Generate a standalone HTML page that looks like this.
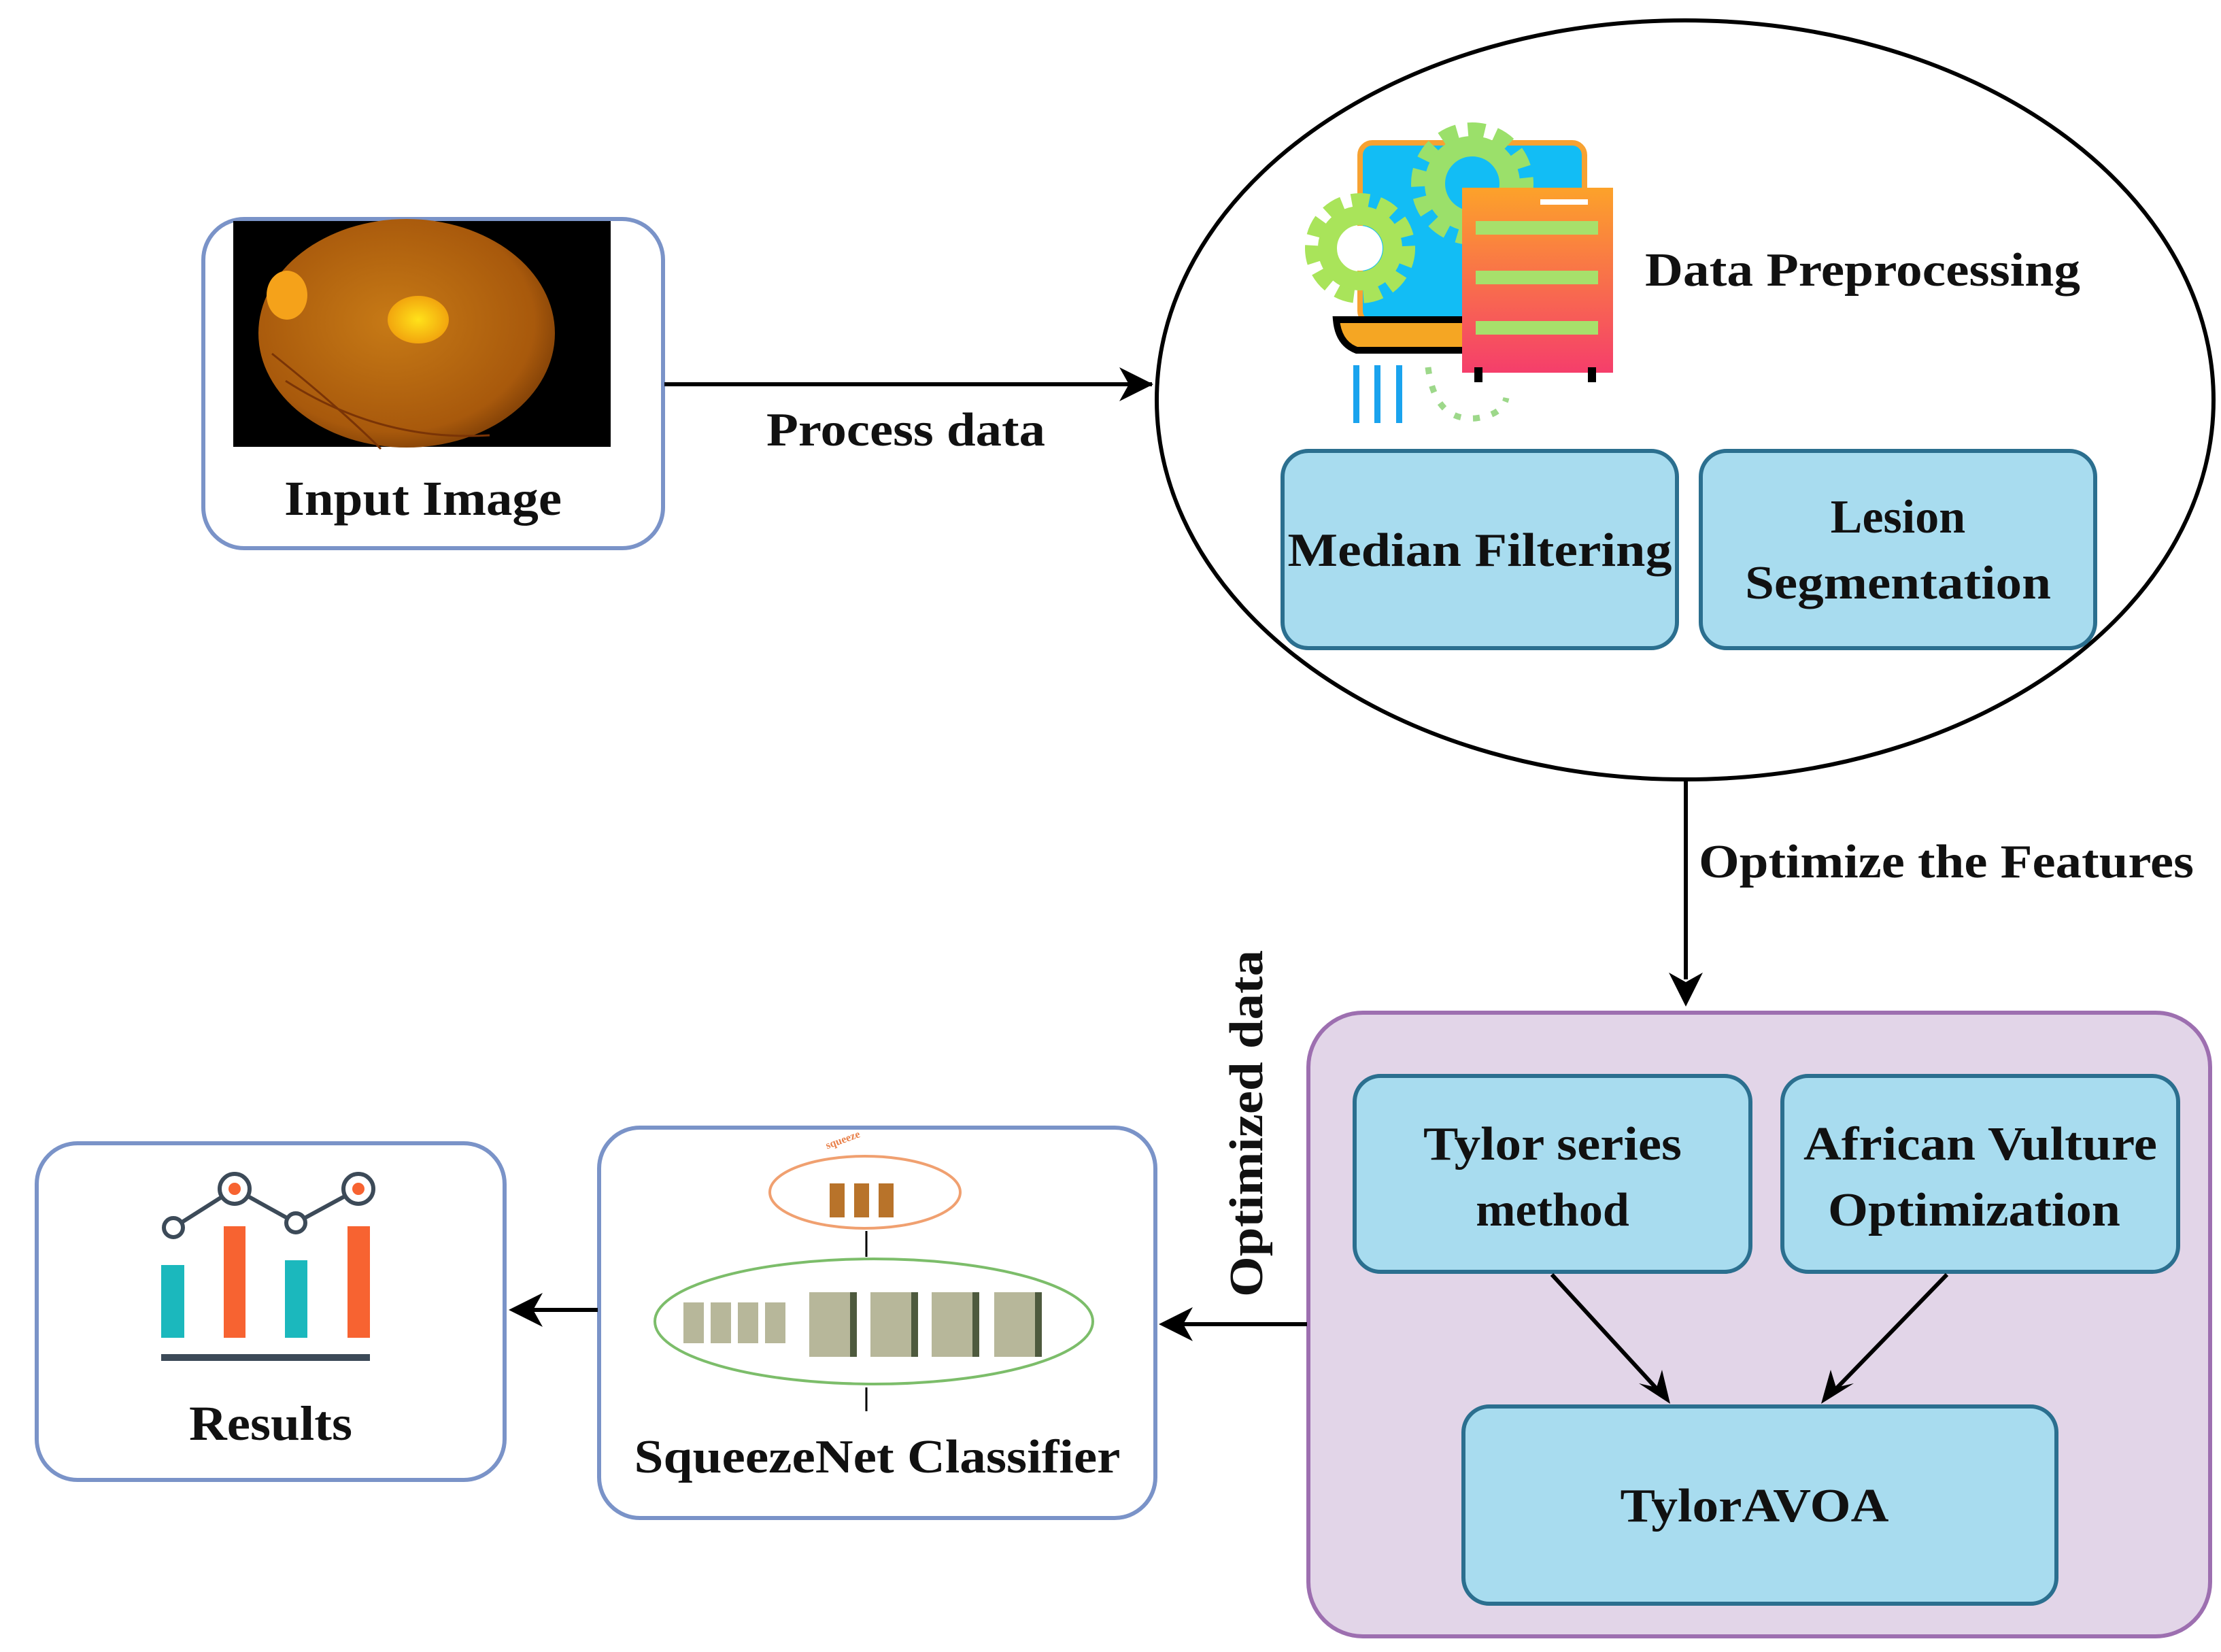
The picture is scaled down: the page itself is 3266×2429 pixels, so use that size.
<!DOCTYPE html>
<html><head><meta charset="utf-8"><style>html,body{margin:0;padding:0;background:#fff}svg{display:block}text{font-family:"Liberation Serif",serif;font-weight:bold;fill:#111}</style></head>
<body>
<svg width="3266" height="2429" viewBox="0 0 3266 2429" xmlns="http://www.w3.org/2000/svg">
<defs>
<marker id="ah" markerWidth="10" markerHeight="10" refX="9" refY="5" orient="auto" markerUnits="userSpaceOnUse" viewBox="0 0 10 10"><path d="M0,0 L10,5 L0,10 L3,5 z" fill="#000"/></marker>
<radialGradient id="ret" cx="0.45" cy="0.45" r="0.6"><stop offset="0" stop-color="#c77a16"/><stop offset="0.8" stop-color="#a8590c"/><stop offset="1" stop-color="#7a3c06"/></radialGradient>
<radialGradient id="spot" cx="0.5" cy="0.5" r="0.5"><stop offset="0" stop-color="#ffe21a"/><stop offset="1" stop-color="#f2a50e"/></radialGradient>
<linearGradient id="srv" x1="0" y1="0" x2="0" y2="1"><stop offset="0" stop-color="#fca22a"/><stop offset="1" stop-color="#f53e6b"/></linearGradient>
</defs>

<!-- Input Image -->
<rect x="299" y="322" width="676" height="484" rx="60" fill="#fff" stroke="#7a93c8" stroke-width="6"/>
<rect x="343" y="325" width="555" height="332" fill="#000"/>
<ellipse cx="598" cy="490" rx="218" ry="168" fill="url(#ret)"/>
<ellipse cx="422" cy="434" rx="30" ry="36" fill="#f5a21a"/>
<ellipse cx="615" cy="470" rx="45" ry="35" fill="url(#spot)"/>
<path d="M400 520 Q500 600 560 660" stroke="#7a3406" stroke-width="3" fill="none"/>
<path d="M420 560 Q560 650 720 640" stroke="#7a3406" stroke-width="3" fill="none"/>
<text x="622" y="757" font-size="72" text-anchor="middle" textLength="408" lengthAdjust="spacingAndGlyphs">Input Image</text>

<!-- Process data arrow -->
<line x1="977" y1="565" x2="1694" y2="565" stroke="#000" stroke-width="6" marker-end="url(#ah)"/>
<path d="M1696 565 L1646 540 L1660 565 L1646 590 z" fill="#000"/>
<text x="1332" y="655" font-size="70" text-anchor="middle" textLength="410" lengthAdjust="spacingAndGlyphs">Process data</text>

<!-- Ellipse -->
<ellipse cx="2478" cy="588" rx="777" ry="558" fill="#fff" stroke="#000" stroke-width="6"/>
<!-- icon -->
<rect x="2000" y="210" width="330" height="265" rx="18" fill="#12bdf5" stroke="#f7a232" stroke-width="8"/>
<circle cx="2165" cy="270" r="70" fill="none" stroke="#9be06a" stroke-width="40" stroke-dasharray="22 14"/>
<circle cx="2165" cy="270" r="55" fill="none" stroke="#9be06a" stroke-width="30"/>
<circle cx="2000" cy="365" r="60" fill="none" stroke="#a9e45a" stroke-width="42" stroke-dasharray="22 12"/>
<circle cx="2000" cy="365" r="48" fill="none" stroke="#a9e45a" stroke-width="28"/>
<circle cx="2000" cy="365" r="33" fill="#fff"/>
<path d="M1965 470 L2170 470 L2170 515 L1995 515 Q1968 505 1965 470 z" fill="#f5a623" stroke="#000" stroke-width="10"/>
<rect x="2150" y="276" width="222" height="272" fill="url(#srv)"/>
<rect x="2170" y="325" width="180" height="20" fill="#a7e06b"/>
<rect x="2170" y="398" width="180" height="20" fill="#a7e06b"/>
<rect x="2170" y="472" width="180" height="20" fill="#a7e06b"/>
<rect x="2168" y="540" width="12" height="22" fill="#000"/><rect x="2335" y="540" width="12" height="22" fill="#000"/>
<rect x="2265" y="293" width="70" height="8" fill="#fff"/>
<rect x="1990" y="537" width="9" height="85" fill="#1aa3ee"/><rect x="2021" y="537" width="9" height="85" fill="#1aa3ee"/><rect x="2053" y="537" width="9" height="85" fill="#1aa3ee"/>
<path d="M2100 540 Q2110 620 2170 615 Q2210 610 2215 585" stroke="#9dd88a" stroke-width="9" fill="none" stroke-dasharray="10 18"/>
<text x="2419" y="420" font-size="70" textLength="640" lengthAdjust="spacingAndGlyphs">Data Preprocessing</text>
<rect x="1886" y="663" width="580" height="290" rx="38" fill="#a8dcef" stroke="#2b6f8f" stroke-width="6"/>
<rect x="2501" y="663" width="580" height="290" rx="38" fill="#a8dcef" stroke="#2b6f8f" stroke-width="6"/>
<text x="2176" y="832" font-size="70" text-anchor="middle" textLength="565" lengthAdjust="spacingAndGlyphs">Median Filtering</text>
<text x="2791" y="783" font-size="70" text-anchor="middle">Lesion</text>
<text x="2791" y="880" font-size="70" text-anchor="middle" textLength="450" lengthAdjust="spacingAndGlyphs">Segmentation</text>

<!-- Optimize arrow -->
<line x1="2479" y1="1148" x2="2479" y2="1440" stroke="#000" stroke-width="6"/>
<path d="M2479 1480 L2454 1430 L2479 1444 L2504 1430 z" fill="#000"/>
<text x="2498" y="1290" font-size="70" textLength="728" lengthAdjust="spacingAndGlyphs">Optimize the Features</text>

<!-- purple box -->
<rect x="1924" y="1489" width="1326" height="917" rx="80" fill="#e2d5e8" stroke="#9d6fb0" stroke-width="6"/>
<rect x="1992" y="1582" width="582" height="288" rx="38" fill="#a8dcef" stroke="#2b6f8f" stroke-width="6"/>
<rect x="2621" y="1582" width="582" height="288" rx="38" fill="#a8dcef" stroke="#2b6f8f" stroke-width="6"/>
<rect x="2152" y="2068" width="872" height="290" rx="38" fill="#a8dcef" stroke="#2b6f8f" stroke-width="6"/>
<text x="2283" y="1705" font-size="70" text-anchor="middle" textLength="380" lengthAdjust="spacingAndGlyphs">Tylor series</text>
<text x="2283" y="1802" font-size="70" text-anchor="middle">method</text>
<text x="2912" y="1705" font-size="70" text-anchor="middle" textLength="520" lengthAdjust="spacingAndGlyphs">African Vulture</text>
<text x="2903" y="1802" font-size="70" text-anchor="middle" textLength="430" lengthAdjust="spacingAndGlyphs">Optimization</text>
<text x="2580" y="2237" font-size="70" text-anchor="middle" textLength="395" lengthAdjust="spacingAndGlyphs">TylorAVOA</text>
<line x1="2282" y1="1874" x2="2440" y2="2046" stroke="#000" stroke-width="6"/>
<path d="M2456 2064 L2410 2034 L2436 2040 L2444 2014 z" fill="#000"/>
<line x1="2863" y1="1874" x2="2696" y2="2046" stroke="#000" stroke-width="6"/>
<path d="M2678 2064 L2692 2014 L2700 2040 L2726 2034 z" fill="#000"/>

<!-- optimized data arrow -->
<line x1="1922" y1="1947" x2="1740" y2="1947" stroke="#000" stroke-width="6"/>
<path d="M1704 1947 L1754 1922 L1740 1947 L1754 1972 z" fill="#000"/>
<text x="0" y="0" font-size="70" text-anchor="middle" textLength="510" lengthAdjust="spacingAndGlyphs" transform="translate(1856 1652) rotate(-90)">Optimized data</text>

<!-- SqueezeNet -->
<rect x="881" y="1658" width="818" height="574" rx="60" fill="#fff" stroke="#7a93c8" stroke-width="6"/>
<ellipse cx="1272" cy="1753" rx="140" ry="53" fill="none" stroke="#f0a070" stroke-width="4"/>
<text x="1220" y="1710" font-size="16" fill="#e8804a" style="fill:#e8804a" transform="rotate(-20 1160 1710)">squeeze</text>
<rect x="1220" y="1740" width="22" height="50" fill="#b8732a"/><rect x="1256" y="1740" width="22" height="50" fill="#b8732a"/><rect x="1292" y="1740" width="22" height="50" fill="#b8732a"/>
<line x1="1274" y1="1810" x2="1274" y2="1848" stroke="#000" stroke-width="3"/>
<ellipse cx="1285" cy="1943" rx="322" ry="92" fill="none" stroke="#7cbd6a" stroke-width="4"/>
<g fill="#b7b79a">
<rect x="1005" y="1915" width="30" height="60"/><rect x="1045" y="1915" width="30" height="60"/><rect x="1085" y="1915" width="30" height="60"/><rect x="1125" y="1915" width="30" height="60"/>
<rect x="1190" y="1900" width="70" height="95"/><rect x="1280" y="1900" width="70" height="95"/><rect x="1370" y="1900" width="70" height="95"/><rect x="1462" y="1900" width="70" height="95"/>
</g>
<g fill="#4e5a3e"><rect x="1250" y="1900" width="10" height="95"/><rect x="1340" y="1900" width="10" height="95"/><rect x="1430" y="1900" width="10" height="95"/><rect x="1522" y="1900" width="10" height="95"/></g>
<line x1="1274" y1="2040" x2="1274" y2="2075" stroke="#000" stroke-width="3"/>
<text x="1290" y="2165" font-size="70" text-anchor="middle" textLength="715" lengthAdjust="spacingAndGlyphs">SqueezeNet Classifier</text>

<!-- results arrow -->
<line x1="879" y1="1926" x2="780" y2="1926" stroke="#000" stroke-width="6"/>
<path d="M748 1926 L798 1901 L784 1926 L798 1951 z" fill="#000"/>

<!-- Results -->
<rect x="54" y="1681" width="688" height="495" rx="60" fill="#fff" stroke="#7a93c8" stroke-width="6"/>
<rect x="237" y="1860" width="34" height="107" fill="#1bb8bd"/>
<rect x="329" y="1803" width="32" height="164" fill="#f76331"/>
<rect x="419" y="1853" width="33" height="114" fill="#1bb8bd"/>
<rect x="511" y="1803" width="33" height="164" fill="#f76331"/>
<rect x="237" y="1991" width="307" height="10" fill="#3c4a58"/>
<polyline points="255,1805 345,1748 435,1798 527,1748" fill="none" stroke="#3c4a58" stroke-width="6"/>
<circle cx="255" cy="1805" r="14" fill="#fff" stroke="#3c4a58" stroke-width="6"/>
<circle cx="435" cy="1798" r="14" fill="#fff" stroke="#3c4a58" stroke-width="6"/>
<circle cx="345" cy="1748" r="22" fill="#fff" stroke="#3c4a58" stroke-width="6"/><circle cx="345" cy="1748" r="9" fill="#f76331"/>
<circle cx="527" cy="1748" r="22" fill="#fff" stroke="#3c4a58" stroke-width="6"/><circle cx="527" cy="1748" r="9" fill="#f76331"/>
<text x="398" y="2117" font-size="72" text-anchor="middle" textLength="240" lengthAdjust="spacingAndGlyphs">Results</text>
</svg>
</body></html>
